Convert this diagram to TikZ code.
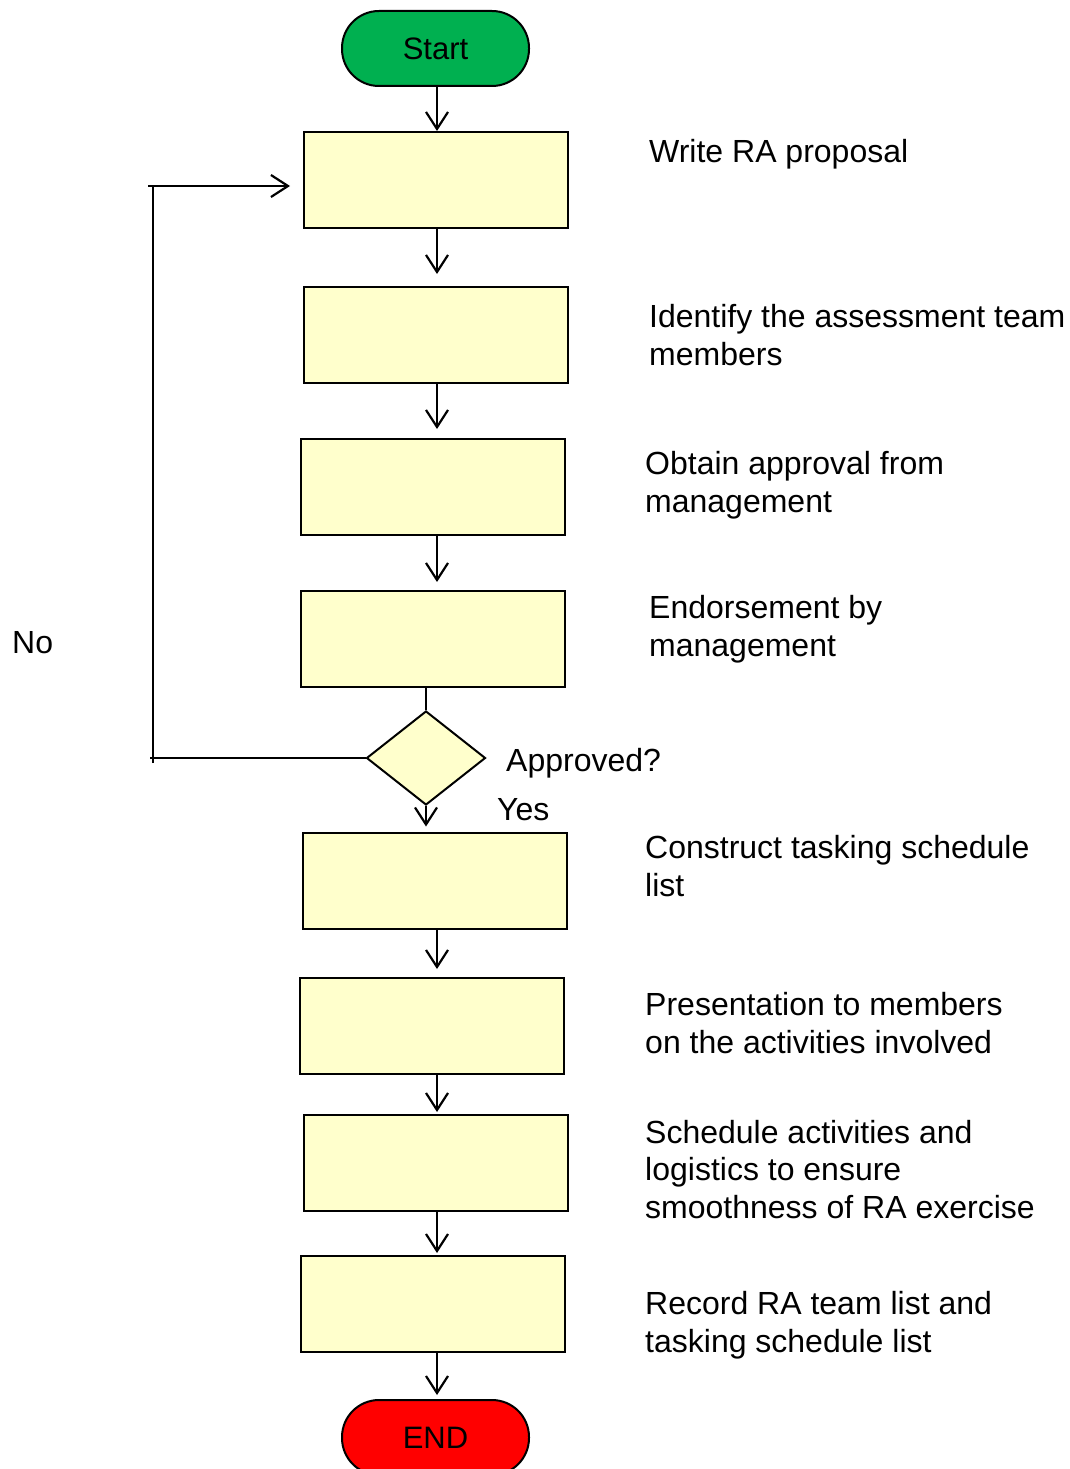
\documentclass[tikz,border=0pt]{standalone}
\usepackage{fontspec}
\setmainfont{Liberation Sans}
\usetikzlibrary{arrows.meta,shapes.geometric}
\definecolor{boxfill}{HTML}{FFFFCC}
\definecolor{startgreen}{HTML}{00B050}
\definecolor{endred}{HTML}{FF0000}
\tikzset{
  stepbox/.style={draw=black,line width=2pt,fill=boxfill,minimum width=264pt,minimum height=96pt,inner sep=0pt},
  term/.style={draw=black,line width=2pt,rounded corners=37pt,minimum width=187pt,minimum height=75pt,inner sep=0pt,font=\fontsize{31}{36}\selectfont},
  decision/.style={draw=black,line width=2pt,fill=boxfill,diamond,minimum width=119pt,minimum height=94pt,inner sep=0pt,aspect=1.27},
  lbl/.style={anchor=base west,align=left,inner sep=0pt,font=\fontsize{32}{37.5}\selectfont},
  conn/.style={line width=2.2pt,-{Straight Barb[length=17pt,width=22pt,line width=2.2pt]}},
  plain/.style={line width=2.2pt}
}
\begin{document}
\begin{tikzpicture}[x=1pt,y=-1pt]
\useasboundingbox (0,0) rectangle (1069,1469);
\fill[white] (0,0) rectangle (1069,1469);
% nodes
\node[term,fill=startgreen] (start) at (435.5,48.5) {Start};
\node[stepbox] (b1) at (436,180) {};
\node[stepbox] (b2) at (436,335) {};
\node[stepbox] (b3) at (433,487) {};
\node[stepbox] (b4) at (433,639) {};
\node[decision] (d) at (426,758) {};
\node[stepbox] (b5) at (435,880.5) {};
\node[stepbox] (b6) at (432,1026) {};
\node[stepbox] (b7) at (436,1163) {};
\node[stepbox] (b8) at (433,1304) {};
\node[term,fill=endred] (end) at (435.5,1437.5) {END};
% column and loop coordinates
\coordinate (col) at (437,0);
\coordinate (loopx) at (153,0);
\coordinate (loopB) at (d.west -| loopx);
\coordinate (loopT) at (153,186);
% connectors
\draw[conn] (start.south -| col) -- (b1.north -| col);
\draw[conn,shorten >=12pt] (b1.south -| col) -- (b2.north -| col);
\draw[conn,shorten >=9pt] (b2.south -| col) -- (b3.north -| col);
\draw[conn,shorten >=8pt] (b3.south -| col) -- (b4.north -| col);
\draw[plain] (b4.south -| d.north) -- (d.north);
\draw[conn,shorten >=5pt] (d.south) -- (b5.north -| d.south);
\draw[conn,shorten >=8pt] (b5.south -| col) -- (b6.north -| col);
\draw[conn,shorten >=2pt] (b6.south -| col) -- (b7.north -| col);
\draw[conn,shorten >=2pt] (b7.south -| col) -- (b8.north -| col);
\draw[conn,shorten >=4pt] (b8.south -| col) -- (end.north -| col);
% loop back (No)
\draw[plain,shorten >=-3pt] (d.west) -- (loopB);
\draw[plain,shorten <=-5pt] (loopB) -- (loopT);
\draw[conn,shorten <=-5pt,shorten >=13pt] (loopT) -- (loopT -| b1.west);
% labels (anchor = baseline of last line)
\node[lbl] (t1) at (649,162) {Write RA proposal};
\node[lbl] (t2) at (649,365) {Identify the assessment team\\members};
\node[lbl] (t3) at (645,512) {Obtain approval from\\management};
\node[lbl] (t4) at (649,656) {Endorsement by\\management};
\node[lbl] (tno) at (12,653) {No};
\node[lbl] (tap) at (506,771) {Approved?};
\node[lbl] (tyes) at (497,820) {Yes};
\node[lbl] (t5) at (645,896) {Construct tasking schedule\\list};
\node[lbl] (t6) at (645,1053) {Presentation to members\\on the activities involved};
\node[lbl] (t7) at (645,1218) {Schedule activities and\\logistics to ensure\\smoothness of RA exercise};
\node[lbl] (t8) at (645,1352) {Record RA team list and\\tasking schedule list};
\end{tikzpicture}
\end{document}
